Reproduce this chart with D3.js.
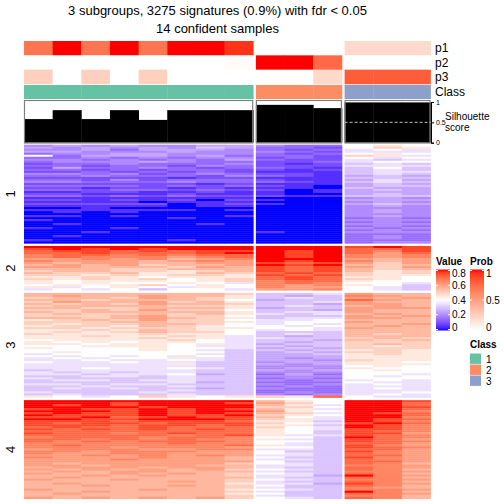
<!DOCTYPE html>
<html><head><meta charset="utf-8">
<script src="https://cdn.jsdelivr.net/npm/d3@7"></script>
<style>body{margin:0;background:#fff}svg{display:block;font-family:"Liberation Sans",Arial,Helvetica,sans-serif}</style>
</head><body><svg id="c" width="504" height="504"></svg>
<script>
// ---------------- data ----------------
const samples = ["s1","s2","s3","s4","s5","s6","s7","s8","s9","s10","s11","s12","s13","s14"];
const groups  = [1,1,1,1,1,1,1,1,2,2,2,3,3,3];
const p1 = [0.7,1,0.7,1,0.7,1,1,0.93, 0,0,0, 0.2,0.2,0.2];
const p2 = [0,0,0,0,0,0,0,0.02, 1,1,0.75, 0,0,0];
const p3 = [0.25,0,0.25,0,0.25,0,0,0, 0,0,0.2, 0.8,0.8,0.8];
const silhouette = [0.58,0.8,0.58,0.8,0.56,0.8,0.8,0.8, 0.93,0.93,0.85, 0.99,0.99,0.99];
const classNames = ["1","2","3"];
const classColors = ["#66C2A5","#FC8D62","#8DA0CB"];
const sliceLabels = ["1","2","3","4"];
const valueTicks = [0,0.2,0.4,0.6,0.8];
const probTicks = [0,0.5,1];
const silTicks = [0,0.5,1];
// heatmap values: one char per sample, "0".."g" = 0 .. 0.8 in steps of 0.05
const slice1 = [
"45454455 433 898","54545465 332 8a9","44535554 323 787","55444544 432 777","34455444 323 898",
"83555453 332 a97","33434344 232 878","44343435 322 767","34445433 223 788","23343334 212 676",
"33233243 222 777","25334323 321 686","33232332 212 676","22323232 111 677","44342343 221 676",
"33433324 321 565","22222122 111 666","33242333 211 575","44333433 321 676","22222212 111 565",
"33332323 210 566","22122121 110 655","33233232 201 565","11221121 101 555","22111211 100 565",
"33232322 211 666","11111111 000 454","22121202 100 555","11110111 000 454","22222012 100 565",
"11111011 000 454","00100000 000 444","11111101 000 454","01010000 000 454","00000000 000 444",
"11010001 000 454","00000100 000 343","10000000 000 444","00000000 000 343","01000010 000 444",
"00000000 000 343","10010000 000 434","00000000 000 343","00100000 100 444","00000000 000 333",
"01000000 000 343","00000000 000 343","10000100 000 333","00000000 000 344"];
const slice2 = [
"gggggggg ggg fgf","fgfgfggg ggg eef","effefeff gfg edf","eefeeefg gfg ece","deededee gfg dcd",
"dedddcde gfg dcd","ccdcdbcd ggg cbc","dcccbcdc gfg dbc","cbccbbcc fef cac","bcbcabbc gfg bab",
"ccbbbacb fef cac","bbbaabbb fef bab","abbaa9ab fef b9a","baab99ba efe a9a","aa9a9aa9 fef a99",
"99a98999 efe 998","a9a9a89a efe a98","9899989a dee 988","98988987 ded 887","8989a898 dcd 986",
"97898798 dcc 876","78786887 ccd 876"];
const slice3 = [
"bbbbbbba 667 cbb","bcbbcbb9 656 dcb","abbacba9 676 cbc","bbabbba8 566 ecb","acbbcab9 667 cbb",
"babacbba 665 ccb","abbbbaa9 676 bcb","bbaabbb9 566 ccc","aabacaa8 665 cbb","babbbbb9 677 cbb",
"abaabab9 767 bcb","aaabcaa8 666 cbc","bbabcba9 677 ccb","9abacaa8 778 bbb","aaabbaa9 788 cbb",
"a9aabba8 787 bbc","9aa9ba98 878 bcb","aa9aaa99 887 cbb","99a9ba98 787 bbb","9a9abaa8 666 bbb",
"a999a998 676 bab","99a99a97 656 bbb","9999a997 766 aba","89999a87 665 bab","98989987 656 aaa",
"99899897 566 aba","88999877 656 a9a","98889887 565 aaa","88889876 656 9a9","89888886 565 aa9",
"78888876 556 9a9","87878786 555 999","78788976 545 999","77877876 554 a99","87787766 455 998",
"77777966 545 999","77777766 444 898","77877876 454 988","67777766 545 898","76767766 444 888",
"77677856 353 887","66776766 444 878","76666766 343 888","67767766 434 787","66666756 333 877",
"77677666 434 787","66766766 343 777","67676656 433 787","66666766 333 777","76667666 343 778",
"67666766 434 787","9878a989 a9e 877"];
const slice4 = [
"gggggggg b98 ggf","gggfgggf ca8 gge","gfgfgggg b97 gge","ggggfggg aa8 ggf","fgffgfgf b97 gge",
"gggfgfgg c98 ggd","fgffgfgf ba7 gfe","gfffgffg a98 gge","ffgefgff b87 ggd","ggffgggf a97 gfe",
"fffefffe 996 gfd","feffefff a87 fge","fffeffef 996 gfd","efeefeee a87 gfd","fefefefe 987 ffd",
"eeeeeeee 986 fed","feedefee 986 ffc","eeeeedef 977 fed","deeedeed 886 ged","eedededd 976 fec",
"ededeeed 886 fed","dddddedd 876 eec","deddddde 976 fdc","dddcdddc 886 fed","cdddccdd 776 eec",
"ddcdddcc 866 fdc","dccddccc 876 edc","ccdcdcdc 776 eec","dcccdccb 866 fdc","cccdcccb 776 edc",
"cccccccc 866 eec","cbccccca 876 edb","ccbcccbb 776 ddc","bcccbccb 766 edc","cbcbcbca 876 edb",
"bcbccbbb 766 ddc","cbbcbcba 876 edb","bbcbcbba 775 gdc","bcbbbbbb 766 edb","cbbcbbba 876 ddc",
"bbbbbcba 766 edb","bcbbbbb9 775 fdc","bbcbbcba 866 edb","bbbbbbba 766 dcb","cbbbcbb9 876 ddc",
"bbcbbbba 766 gdb","bcbbbbb9 866 edc","bbbbbbba 766 ddb","cbcbcbca 876 edb"];
const slices = [slice1, slice2, slice3, slice4];

// ---------------- helpers ----------------
const codes = "0123456789abcdefg";
const decode = row => row.replace(/ /g,"").split("").map(ch => codes.indexOf(ch)/20);

const svg = d3.select("#c");
const valueColor = d3.scaleLinear().domain([0,0.4,0.8]).range(["#0000FF","#FFFFFF","#FF0000"]).interpolate(d3.interpolateLab).clamp(true);
const probColor = d3.scaleLinear().domain([0,1]).range(["#FFFFFF","#FF0000"]).interpolate(d3.interpolateLab).clamp(true);

// column scales per group
const groupRanges = [[24,253.2],[255.9,341.9],[344.6,430.5]];
const groupScales = groupRanges.map((r,g) => d3.scaleBand().domain(samples.filter((s,i)=>groups[i]===g+1)).range(r));
const xOf = i => groupScales[groups[i]-1](samples[i]);
const wOf = i => groupScales[groups[i]-1].bandwidth();

// ---------------- title ----------------
svg.append("text").attr("x",217.5).attr("y",15).attr("text-anchor","middle").attr("font-size",13).text("3 subgroups, 3275 signatures (0.9%) with fdr < 0.05");
svg.append("text").attr("x",217.5).attr("y",33).attr("text-anchor","middle").attr("font-size",13).text("14 confident samples");

// ---------------- annotations ----------------
const annY = d3.scaleBand().domain(["p1","p2","p3"]).range([41,84]);
const probs = {p1, p2, p3};
["p1","p2","p3"].forEach(k => {
  svg.append("g").selectAll("rect").data(probs[k]).join("rect")
    .attr("x",(d,i)=>xOf(i)).attr("width",(d,i)=>wOf(i)+0.4)
    .attr("y",annY(k)).attr("height",annY.bandwidth()+0.3)
    .attr("fill",d=>probColor(d));
  svg.append("text").attr("x",435).attr("y",annY(k)+annY.bandwidth()/2).attr("dy","0.35em").attr("font-size",12).text(k);
});
svg.append("g").selectAll("rect").data(groups).join("rect")
  .attr("x",(d,i)=>xOf(i)).attr("width",(d,i)=>wOf(i)+0.4)
  .attr("y",85).attr("height",14).attr("fill",d=>classColors[d-1]);
svg.append("text").attr("x",435).attr("y",92).attr("dy","0.35em").attr("font-size",12).text("Class");

// silhouette
const silY = d3.scaleLinear().domain([0,1]).range([142.7,102]);
svg.append("g").selectAll("rect").data(silhouette).join("rect")
  .attr("x",(d,i)=>xOf(i)).attr("width",(d,i)=>wOf(i)+0.4)
  .attr("y",d=>silY(d)).attr("height",d=>silY(0)-silY(d)).attr("fill","#000");
groupRanges.forEach(r => {
  svg.append("rect").attr("x",r[0]+0.5).attr("y",100.5).attr("width",r[1]-r[0]-1).attr("height",42.5)
    .attr("fill","none").attr("stroke","#808080").attr("stroke-width",1.2);
});
svg.append("line").attr("x1",groupRanges[2][0]).attr("x2",groupRanges[2][1]+2).attr("y1",silY(0.5)).attr("y2",silY(0.5))
  .attr("stroke","#bbb").attr("stroke-dasharray","3,2");
const silAxis = svg.append("g").attr("transform","translate(431,0)")
  .call(d3.axisRight(silY).tickValues(silTicks).tickFormat(d3.format("~g")).tickSize(3).tickPadding(2));
silAxis.select(".domain").attr("stroke","#000");
silAxis.selectAll("text").attr("font-size",7).attr("font-family","inherit");
svg.append("text").attr("x",445).attr("y",116).attr("dy","0.35em").attr("font-size",10).text("Silhouette");
svg.append("text").attr("x",445).attr("y",127).attr("dy","0.35em").attr("font-size",10).text("score");

// ---------------- heatmap ----------------
const hmTop = 144.7, hmBottom = 498.7, gap = 2.7;
const totalRows = d3.sum(slices, s=>s.length);
const rowH = (hmBottom-hmTop-gap*(slices.length-1))/totalRows;
let y0 = hmTop;
slices.forEach((sl,si) => {
  const y1 = y0 + sl.length*rowH;
  const rowScale = d3.scaleBand().domain(d3.range(sl.length)).range([y0,y1]);
  const cells = [];
  sl.forEach((row,ri) => decode(row).forEach((v,ci) => cells.push({ri,ci,v})));
  svg.append("g").selectAll("rect").data(cells).join("rect")
    .attr("x",d=>xOf(d.ci)).attr("width",d=>wOf(d.ci)+0.4)
    .attr("y",d=>rowScale(d.ri)).attr("height",rowScale.bandwidth()+0.4)
    .attr("fill",d=>valueColor(d.v));
  svg.append("text").attr("transform",`translate(15,${(y0+y1)/2}) rotate(-90)`)
    .attr("text-anchor","middle").attr("font-size",13).text(sliceLabels[si]);
  y0 = y1 + gap;
});

// ---------------- legends ----------------
const defs = svg.append("defs");
function colorbar(id, x, title, scale, domain, ticks, fmt){
  const grad = defs.append("linearGradient").attr("id",id).attr("x1",0).attr("x2",0).attr("y1",1).attr("y2",0);
  d3.range(0,1.0001,0.05).forEach(t => grad.append("stop").attr("offset",t).attr("stop-color",scale(domain[0]+t*(domain[1]-domain[0]))));
  svg.append("text").attr("x",x).attr("y",264.5).attr("font-size",10).attr("font-weight","bold").text(title);
  const ly = d3.scaleLinear().domain(domain).range([329.5,270.5]);
  svg.append("rect").attr("x",x).attr("y",269.5).attr("width",14).attr("height",61).attr("fill",`url(#${id})`);
  ticks.forEach(t => {
    svg.append("line").attr("x1",x).attr("x2",x+2).attr("y1",ly(t)).attr("y2",ly(t)).attr("stroke","#fff");
    svg.append("line").attr("x1",x+12).attr("x2",x+14).attr("y1",ly(t)).attr("y2",ly(t)).attr("stroke","#fff");
    const ty = Math.max(273.5, Math.min(327.5, ly(t)));
    svg.append("text").attr("x",x+16).attr("y",ty).attr("dy","0.35em").attr("font-size",10).text(fmt(t));
  });
}
colorbar("gv",436,"Value",valueColor,[0,0.8],valueTicks,d3.format("~g"));
colorbar("gp",470,"Prob",probColor,[0,1],probTicks,d3.format("~g"));

svg.append("text").attr("x",470).attr("y",348).attr("font-size",10).attr("font-weight","bold").text("Class");
const legY = d3.scaleBand().domain(classNames).range([353.5,386.5]);
classNames.forEach((c,i) => {
  svg.append("rect").attr("x",470).attr("y",legY(c)).attr("width",11).attr("height",legY.bandwidth()-0.6).attr("fill",classColors[i]);
  svg.append("text").attr("x",486).attr("y",legY(c)+legY.bandwidth()/2).attr("dy","0.35em").attr("font-size",10).text(c);
});
</script></body></html>
